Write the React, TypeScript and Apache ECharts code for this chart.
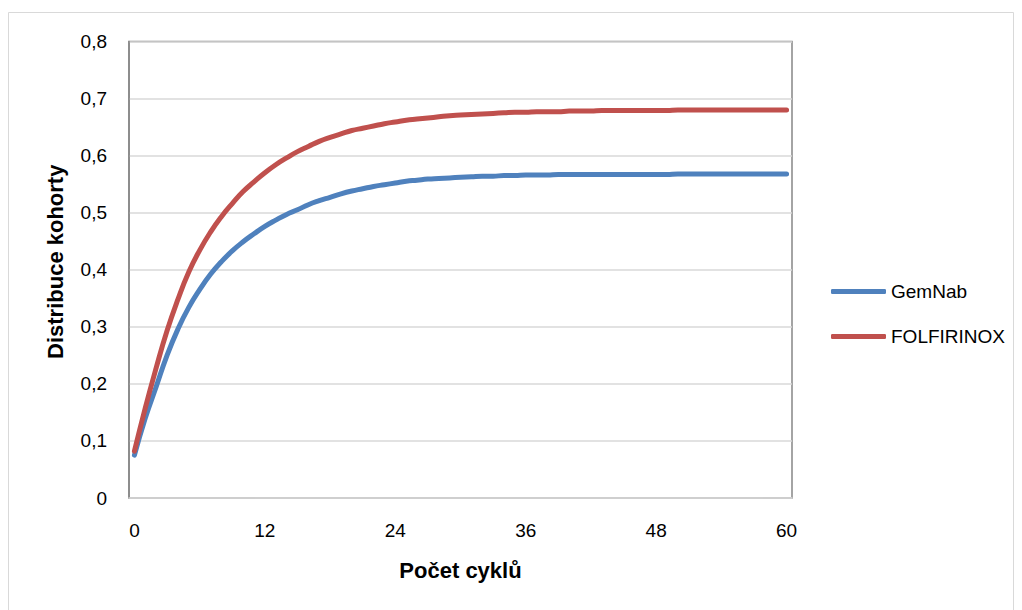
import React, { useEffect, useRef } from "react";
import * as echarts from "echarts";

const cycles: string[] = Array.from({ length: 61 }, (_, i) => String(i));

const gemNab: number[] = [
  0.075, 0.14, 0.195, 0.25, 0.296, 0.334, 0.365, 0.392, 0.414, 0.433,
  0.449, 0.463, 0.476, 0.487, 0.497, 0.505, 0.514, 0.521, 0.527, 0.533,
  0.538, 0.542, 0.546, 0.549, 0.552, 0.555, 0.557, 0.559, 0.56, 0.561,
  0.562, 0.563, 0.564, 0.564, 0.565, 0.565, 0.566, 0.566, 0.566, 0.567,
  0.567, 0.567, 0.567, 0.567, 0.567, 0.567, 0.567, 0.567, 0.567, 0.567,
  0.568, 0.568, 0.568, 0.568, 0.568, 0.568, 0.568, 0.568, 0.568, 0.568,
  0.568,
];

const folfirinox: number[] = [
  0.082, 0.158, 0.228, 0.293, 0.348, 0.396, 0.434, 0.466, 0.493, 0.516,
  0.537, 0.554, 0.57, 0.584, 0.596, 0.607, 0.616, 0.625, 0.632, 0.638,
  0.644, 0.648, 0.652, 0.656, 0.659, 0.662, 0.664, 0.666, 0.668, 0.67,
  0.671, 0.672, 0.673, 0.674, 0.675, 0.676, 0.676, 0.677, 0.677, 0.677,
  0.678, 0.678, 0.678, 0.679, 0.679, 0.679, 0.679, 0.679, 0.679, 0.679,
  0.68, 0.68, 0.68, 0.68, 0.68, 0.68, 0.68, 0.68, 0.68, 0.68,
  0.68,
];

const seriesNames = ["GemNab", "FOLFIRINOX"];
const xTitle = "Počet cyklů";
const yTitle = "Distribuce kohorty";

export default function App() {
  const ref = useRef<HTMLDivElement>(null);
  useEffect(() => {
    document.body.style.margin = "0";
    if (!ref.current) return;
    const chart = echarts.init(ref.current, null, { renderer: "svg" });
    const font = "'Liberation Sans', Arial, sans-serif";
    chart.setOption({
      animation: false,
      backgroundColor: "#ffffff",
      textStyle: { fontFamily: font },
      graphic: [
        {
          type: "rect",
          shape: { x: 8.5, y: 12.5, width: 1005, height: 620 },
          style: { fill: "none", stroke: "#d9d9d9", lineWidth: 1 },
          silent: true,
          z: -10,
        },
      ],
      grid: {
        left: 129,
        right: 230,
        top: 41.5,
        bottom: 112,
        show: true,
        borderColor: "#868686",
        borderWidth: 1.5,
        backgroundColor: "transparent",
      },
      legend: {
        orient: "vertical",
        left: 831,
        top: 282,
        padding: 0,
        icon: "roundRect",
        itemWidth: 55,
        itemHeight: 5,
        itemGap: 26,
        data: seriesNames,
        textStyle: { fontSize: 19, color: "#000", fontFamily: font },
        selectedMode: false,
      },
      xAxis: {
        type: "category",
        data: cycles,
        boundaryGap: true,
        name: xTitle,
        nameLocation: "middle",
        nameGap: 61,
        nameTextStyle: { fontSize: 22, fontWeight: "bold", color: "#000", fontFamily: font },
        axisLine: { show: true, lineStyle: { color: "#d0d0d0", width: 1.5 } },
        axisTick: { show: false },
        axisLabel: { interval: 11, fontSize: 19, color: "#000", margin: 23, fontFamily: font },
        splitLine: { show: false },
      },
      yAxis: {
        type: "value",
        min: 0,
        max: 0.8,
        interval: 0.1,
        name: yTitle,
        nameLocation: "middle",
        nameGap: 63,
        nameTextStyle: {
          fontSize: 22,
          fontWeight: "bold",
          color: "#000",
          fontFamily: font,
          padding: [0, 0, 0, 16],
        },
        axisLine: { show: true, lineStyle: { color: "#868686", width: 1.5 } },
        axisTick: { show: false },
        axisLabel: {
          fontSize: 19,
          color: "#000",
          margin: 22,
          fontFamily: font,
          formatter: (v: number) => (v === 0 ? "0" : v.toFixed(1).replace(".", ",")),
        },
        splitLine: { show: true, lineStyle: { color: "#d9d9d9", width: 1.5 } },
      },
      series: [
        {
          name: seriesNames[0],
          type: "line",
          data: gemNab,
          smooth: true,
          symbol: "none",
          lineStyle: { color: "#4f81bd", width: 5, cap: "round", join: "round" },
          itemStyle: { color: "#4f81bd" },
        },
        {
          name: seriesNames[1],
          type: "line",
          data: folfirinox,
          smooth: true,
          symbol: "none",
          lineStyle: { color: "#c0504d", width: 5, cap: "round", join: "round" },
          itemStyle: { color: "#c0504d" },
        },
      ],
    });
    return () => chart.dispose();
  }, []);
  return <div ref={ref} style={{ width: 1022, height: 610 }} />;
}
